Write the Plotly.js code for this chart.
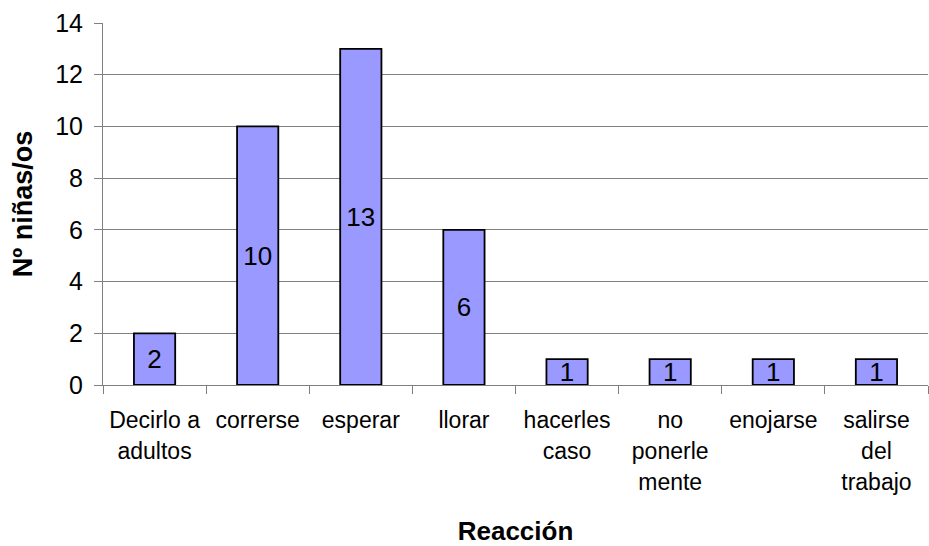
<!DOCTYPE html>
<html>
<head>
<meta charset="utf-8">
<script src="https://cdn.plot.ly/plotly-3.0.1.min.js"></script>
<style>html,body{margin:0;padding:0;background:#fff;}#chart{width:929px;height:546px;}</style>
</head>
<body>
<div id="chart"></div>
<script>
var categories = ["Decirlo a<br>adultos", "correrse", "esperar", "llorar", "hacerles<br>caso", "no<br>ponerle<br>mente", "enojarse", "salirse<br>del<br>trabajo"];
var values = [2, 10, 13, 6, 1, 1, 1, 1];
var yTicks = [0, 2, 4, 6, 8, 10, 12, 14];

var tickText = categories.map(function (c) {
  return '<span style="font-size:23px">' + c + '</span>';
});

var trace = {
  type: 'bar',
  x: categories,
  y: values,
  text: values.map(String),
  textposition: 'inside',
  insidetextanchor: 'middle',
  constraintext: 'none',
  textangle: 0,
  textfont: {family: 'Liberation Sans, Arial, sans-serif', size: 26, color: '#000'},
  marker: {color: '#9999FF', line: {color: '#000', width: 1.8}},
  width: 0.4,
  hoverinfo: 'none'
};

var layout = {
  width: 929, height: 546,
  margin: {l: 103, r: 1, t: 23, b: 161},
  paper_bgcolor: '#fff', plot_bgcolor: '#fff',
  showlegend: false,
  font: {family: 'Liberation Sans, Arial, sans-serif', color: '#000'},
  xaxis: {
    type: 'category',
    tickmode: 'array',
    tickvals: categories,
    ticktext: tickText,
    tickson: 'boundaries',
    ticks: 'outside', ticklen: 8, tickcolor: '#808080', tickwidth: 1,
    tickfont: {size: 24, color: '#000'},
    ticklabelstandoff: 13,
    tickangle: 0,
    showline: true, linecolor: '#808080', linewidth: 1,
    showgrid: false, zeroline: false,
    range: [-0.5, 7.5],
    automargin: false,
    title: {text: 'Reacción', font: {size: 26, color: '#000', weight: 'bold'}, standoff: 29}
  },
  yaxis: {
    range: [0, 14],
    tickmode: 'array',
    tickvals: yTicks,
    ticks: 'outside', ticklen: 8, tickcolor: '#808080', tickwidth: 1,
    tickfont: {size: 25, color: '#000'},
    ticklabelstandoff: 6,
    showline: true, linecolor: '#808080', linewidth: 1,
    showgrid: true, gridcolor: '#808080', gridwidth: 1,
    zeroline: false,
    automargin: false,
    title: {text: 'Nº niñas/os', font: {size: 27, color: '#000', weight: 'bold'}, standoff: 14}
  }
};

Plotly.newPlot('chart', [trace], layout, {staticPlot: true, displayModeBar: false});
</script>
</body>
</html>
